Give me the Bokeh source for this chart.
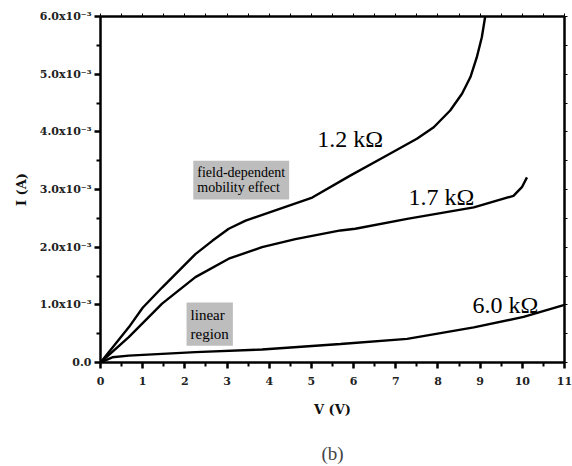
from bokeh.plotting import figure
from bokeh.models import FixedTicker, CustomJSTickFormatter, LinearAxis, Label, Title
from bokeh.embed import file_html
from bokeh.resources import INLINE

# ---- data (V in volts, I in mA, converted to A below) ----
v_1k2 = [0, 0.67, 1.0, 1.46, 2.25, 2.65, 3.04, 3.44, 4.23, 5.02, 5.92, 6.71, 7.50, 7.90, 8.29, 8.57, 8.77, 8.92, 9.04, 9.12]
i_1k2_mA = [0, 0.61, 0.95, 1.30, 1.88, 2.11, 2.32, 2.46, 2.66, 2.86, 3.24, 3.56, 3.88, 4.08, 4.37, 4.66, 4.95, 5.29, 5.64, 6.0]

v_1k7 = [0, 0.67, 1.46, 2.25, 3.04, 3.83, 4.62, 5.69, 6.04, 7.27, 8.85, 9.79, 9.99, 10.11]
i_1k7_mA = [0, 0.44, 1.02, 1.48, 1.80, 2.0, 2.14, 2.29, 2.32, 2.49, 2.69, 2.89, 3.04, 3.21]

v_6k0 = [0, 0.28, 0.67, 2.25, 3.83, 5.69, 7.27, 8.85, 10.03, 11.0]
i_6k0_mA = [0, 0.09, 0.12, 0.18, 0.225, 0.32, 0.41, 0.61, 0.79, 1.0]

x_ticks = list(range(0, 12))
x_minor = [k + 0.5 for k in range(0, 11)]
y_ticks_mA = [0, 1, 2, 3, 4, 5, 6]
y_minor_mA = [0.5, 1.5, 2.5, 3.5, 4.5, 5.5]

curve_labels = ["1.2 k\u03a9", "1.7 k\u03a9", "6.0 k\u03a9"]
curve_label_v = [5.14, 7.30, 8.82]
curve_label_i_mA = [3.88, 2.87, 0.99]

box_texts = ["field-dependent\nmobility effect", "linear\nregion"]
box_v = [2.20, 2.04]
box_i_mA = [3.50, 1.04]
box_font_sizes = ["14px", "15px"]
box_line_heights = [1.05, 1.2]

mA = 1e-3
SERIF = "Liberation Serif"
TICKFONT = "DejaVu Serif"

p = figure(width=572, height=466, x_range=(0, 11), y_range=(0, 6 * mA),
           output_backend="svg", toolbar_location=None,
           min_border_left=100, min_border_right=8, min_border_top=16, min_border_bottom=104,
           x_axis_label="V (V)", y_axis_label="I (A)")
p.outline_line_color = None
p.grid.visible = False
p.background_fill_color = "white"
p.border_fill_color = "white"

# curves
for vs, iv in [(v_1k2, i_1k2_mA), (v_1k7, i_1k7_mA), (v_6k0, i_6k0_mA)]:
    p.line(vs, [y * mA for y in iv], line_color="black", line_width=2.4)

# axes
xa = p.xaxis[0]
xa.ticker = FixedTicker(ticks=x_ticks, minor_ticks=x_minor)
ya = p.yaxis[0]
ya.ticker = FixedTicker(ticks=[t * mA for t in y_ticks_mA], minor_ticks=[t * mA for t in y_minor_mA])
ya.formatter = CustomJSTickFormatter(code="""
if (Math.abs(tick) < 1e-12) { return '0.0'; }
return (tick * 1000).toFixed(1) + 'x10\u207b\u00b3';
""")

for ax in (xa, ya):
    ax.axis_line_width = 2.5
    ax.axis_line_color = "black"
    ax.major_tick_line_width = 2.5
    ax.minor_tick_line_width = 2
    ax.major_tick_in = 0
    ax.minor_tick_in = 0
    ax.major_tick_out = 6
    ax.minor_tick_out = 4
    ax.major_label_text_font = TICKFONT
    ax.major_label_text_font_style = "bold"
    ax.major_label_text_font_size = "11px"
    ax.major_label_text_color = "#222222"
    ax.axis_label_text_font = TICKFONT
    ax.axis_label_text_font_style = "bold"
    ax.axis_label_text_font_size = "13px"
    ax.axis_label_text_color = "#111111"

xa.major_label_standoff = 8
xa.axis_label_standoff = 14
ya.major_label_standoff = 3
ya.axis_label_standoff = 8

# top and right frame axes with small outward ticks, no labels
top = LinearAxis(ticker=FixedTicker(ticks=[k * 0.5 for k in range(0, 23)]))
right = LinearAxis(ticker=FixedTicker(ticks=[t * mA for t in [k * 0.5 for k in range(0, 13)]]))
for ax in (top, right):
    ax.axis_line_width = 2.5
    ax.axis_line_color = "black"
    ax.major_tick_in = 0
    ax.major_tick_out = 3
    ax.major_tick_line_width = 1
    ax.minor_tick_line_color = None
    ax.formatter = CustomJSTickFormatter(code="return '';")
    ax.major_label_text_font_size = "1px"
    ax.major_label_standoff = 0
p.add_layout(top, "above")
p.add_layout(right, "right")

# curve labels
for t, xv, yv in zip(curve_labels, curve_label_v, curve_label_i_mA):
    p.add_layout(Label(x=xv, y=yv * mA, text=t, text_font=SERIF, text_font_size="24px",
                       text_align="left", text_baseline="middle", text_color="black"))

# gray annotation boxes
for t, xv, yv, fs, lh in zip(box_texts, box_v, box_i_mA, box_font_sizes, box_line_heights):
    p.add_layout(Label(x=xv, y=yv * mA, text=t, text_font=SERIF, text_font_size=fs,
                       text_align="left", text_baseline="top", text_color="black",
                       text_line_height=lh, padding=4,
                       background_fill_color="#bdbdbd", background_fill_alpha=1.0))

# caption (blank first line pushes it down to the bottom of the canvas)
cap = Title(text="\n(b)", align="center", text_font=SERIF,
            text_font_size="19px", text_font_style="normal", standoff=0)
p.add_layout(cap, "below")

open("out.html", "w").write(file_html(p, INLINE))
